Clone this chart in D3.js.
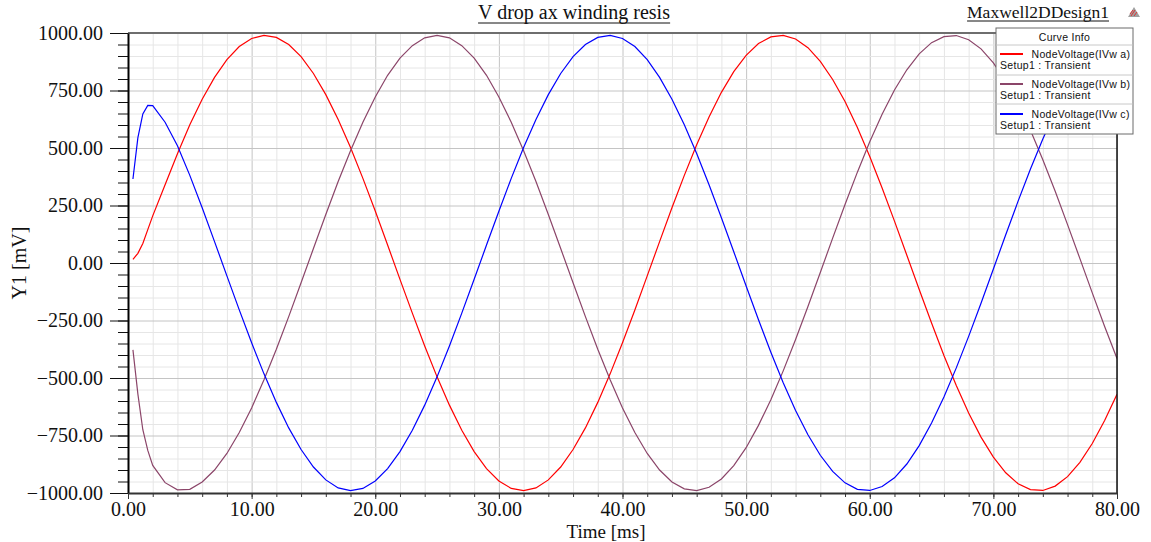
<!DOCTYPE html>
<html>
<head>
<meta charset="utf-8">
<script src="https://cdnjs.cloudflare.com/ajax/libs/d3/7.8.5/d3.min.js"></script>
<style>
  body { margin: 0; background: #fff; }
  svg { display: block; }
  .axis text { font-family: "Liberation Serif", "Times New Roman", serif; font-size: 20px; fill: #111; }
  .legend text { font-family: "Liberation Sans", Arial, sans-serif; font-size: 10.5px; fill: #111; letter-spacing: 0.3px; }
</style>
</head>
<body>
<div id="chart"></div>
<script>
// values (time in ms, voltage in mV)
var timeMs = [0.4, 0.8, 1.2, 1.6, 2,
    3, 4, 5, 6, 7, 8, 9, 10, 11, 12,
    13, 14, 15, 16, 17, 18, 19, 20, 21, 22,
    23, 24, 25, 26, 27, 28, 29, 30, 31, 32,
    33, 34, 35, 36, 37, 38, 39, 40, 41, 42,
    43, 44, 45, 46, 47, 48, 49, 50, 51, 52,
    53, 54, 55, 56, 57, 58, 59, 60, 61, 62,
    63, 64, 65, 66, 67, 68, 69, 70, 71, 72,
    73, 74, 75, 76, 77, 78, 79, 80];

var vwa = [16, 42, 85, 145, 205,
    340, 475, 601, 712, 807, 884, 941, 976, 990, 981,
    950, 897, 824, 732, 624, 502, 368, 226, 78, -71,
    -218, -361, -495, -618, -727, -820, -894, -948, -980, -990,
    -978, -943, -887, -811, -717, -606, -482, -347, -204, -56,
    93, 240, 381, 514, 635, 742, 832, 903, 954, 983,
    990, 974, 936, 877, 798, 702, 589, 463, 326, 182,
    34, -115, -261, -402, -533, -652, -757, -844, -912, -960,
    -985, -989, -970, -929, -867, -785, -685, -571];

var vwb = [-378, -570, -725, -815, -880,
    -955, -986, -984, -952, -900, -828, -737, -630, -508, -375,
    -233, -86, 63, 211, 354, 488, 612, 722, 816, 891,
    945, 979, 990, 979, 945, 891, 816, 722, 612, 488,
    354, 211, 63, -86, -233, -375, -508, -630, -737, -828,
    -900, -952, -982, -990, -975, -939, -881, -803, -706, -595,
    -469, -333, -189, -41, 108, 254, 395, 527, 647, 752,
    840, 909, 958, 984, 989, 971, 931, 870, 790, 691,
    577, 449, 312, 167, 19, -130, -276, -415];

var vwc = [365, 545, 648, 685, 684,
    612, 510, 381, 240, 93, -56, -204, -347, -482, -606,
    -717, -811, -887, -943, -978, -990, -980, -948, -894, -820,
    -727, -618, -495, -361, -218, -71, 78, 225, 368, 502,
    624, 732, 824, 897, 950, 981, 990, 976, 941, 884,
    807, 712, 601, 476, 340, 197, 49, -100, -247, -388,
    -521, -641, -747, -836, -906, -956, -984, -989, -972, -934,
    -874, -794, -696, -583, -456, -319, -175, -26, 123, 269,
    409, 539, 658, 761, 848, 915, 961, 986];

var seriesNames = ["NodeVoltage(IVw a)", "NodeVoltage(IVw b)", "NodeVoltage(IVw c)"];
var seriesSetup = "Setup1 : Transient";
var seriesColors = ["#ff0000", "#8b4569", "#0000ff"];

var xMajorTicks = [0, 10, 20, 30, 40, 50, 60, 70, 80];
var yMajorTicks = [-1000, -750, -500, -250, 0, 250, 500, 750, 1000];

// set the dimensions and margins of the graph
var W = 1151, H = 542;
var margin = { top: 33, right: 34, bottom: 49, left: 128 },
    width = W - margin.left - margin.right,
    height = H - margin.top - margin.bottom;

var svg = d3.select("#chart")
    .append("svg")
    .attr("width", W)
    .attr("height", H)
    .style("background", "#fff");

var g = svg.append("g")
    .attr("transform", "translate(" + margin.left + "," + margin.top + ")");

var x = d3.scaleLinear().domain([0, 80]).range([0, width]);
var y = d3.scaleLinear().domain([-1000, 1000]).range([height, 0]);

var xMinor = d3.range(0, 81, 2);
var yMinor = d3.range(-1000, 1001, 50);

// grid, minor then major
var gx = g.append("g")
    .attr("transform", "translate(0," + height + ")")
    .call(d3.axisBottom(x).tickValues(xMinor).tickSize(-height).tickFormat(""));
gx.select(".domain").remove();
gx.selectAll("line").attr("stroke", function (d) { return d % 10 === 0 ? "#c4c4c4" : "#e6e6e6"; });

var gy = g.append("g")
    .call(d3.axisLeft(y).tickValues(yMinor).tickSize(-width).tickFormat(""));
gy.select(".domain").remove();
gy.selectAll("line").attr("stroke", function (d) { return d % 250 === 0 ? "#c4c4c4" : "#e6e6e6"; });
gy.selectAll(".tick").sort(function (a, b) { return (a % 250 === 0) - (b % 250 === 0); }).order();

// curves
g.append("clipPath").attr("id", "plotClip")
    .append("rect").attr("width", width).attr("height", height);

var seriesValues = [vwa, vwb, vwc];
var line = d3.line()
    .x(function (d) { return x(d[0]); })
    .y(function (d) { return y(d[1]); });

seriesValues.forEach(function (vals, i) {
    g.append("path")
        .datum(timeMs.map(function (t, k) { return [t, vals[k]]; }))
        .attr("clip-path", "url(#plotClip)")
        .attr("fill", "none")
        .attr("stroke", seriesColors[i])
        .attr("stroke-width", 1.2)
        .attr("d", line);
});

// frame: top and right borders
g.append("line").attr("x1", 0).attr("x2", width).attr("y1", 0).attr("y2", 0)
    .attr("stroke", "#6e6e6e").attr("stroke-width", 2);
g.append("line").attr("x1", width).attr("x2", width).attr("y1", 0).attr("y2", height)
    .attr("stroke", "#111").attr("stroke-width", 1.5);

// y axis
var yMinorAxis = g.append("g")
    .call(d3.axisLeft(y).tickValues(yMinor).tickSize(10).tickFormat(""));
yMinorAxis.select(".domain").remove();
yMinorAxis.selectAll("line").attr("stroke", "#111");

var yAxis = g.append("g")
    .attr("class", "axis")
    .call(d3.axisLeft(y).tickValues(yMajorTicks).tickSize(18).tickSizeOuter(0).tickPadding(7)
        .tickFormat(d3.format(".2f")));
yAxis.select(".domain").attr("stroke", "#000").attr("stroke-width", 2);
yAxis.selectAll("line").attr("stroke", "#111");

// x axis
var xMinorAxis = g.append("g")
    .attr("transform", "translate(0," + height + ")")
    .call(d3.axisBottom(x).tickValues(xMinor).tickSize(4).tickFormat(""));
xMinorAxis.select(".domain").remove();
xMinorAxis.selectAll("line").attr("stroke", "#333");

var xAxis = g.append("g")
    .attr("class", "axis")
    .attr("transform", "translate(0," + height + ")")
    .call(d3.axisBottom(x).tickValues(xMajorTicks).tickSize(6).tickSizeOuter(0).tickPadding(3)
        .tickFormat(d3.format(".2f")));
xAxis.select(".domain").attr("stroke", "#333").attr("stroke-width", 2);
xAxis.selectAll("line").attr("stroke", "#333");

// axis titles
svg.append("text")
    .attr("transform", "translate(26," + (margin.top + height / 2) + ") rotate(-90)")
    .attr("text-anchor", "middle")
    .style("font-family", '"Liberation Serif", "Times New Roman", serif')
    .style("font-size", "20px")
    .attr("fill", "#111")
    .text("Y1 [mV]");

svg.append("text")
    .attr("x", 606)
    .attr("y", 537.5)
    .attr("text-anchor", "middle")
    .style("font-family", '"Liberation Serif", "Times New Roman", serif')
    .style("font-size", "19px")
    .attr("fill", "#111")
    .text("Time [ms]");

// underlined title and design name
function underlined(txt, xPos, yPos, size, anchor, gap) {
    var t = svg.append("text")
        .attr("x", xPos).attr("y", yPos)
        .attr("text-anchor", anchor)
        .style("font-family", '"Liberation Serif", "Times New Roman", serif')
        .style("font-size", size + "px")
        .attr("fill", "#111")
        .text(txt);
    var bb = t.node().getBBox();
    svg.append("line")
        .attr("x1", bb.x).attr("x2", bb.x + bb.width)
        .attr("y1", yPos + gap).attr("y2", yPos + gap)
        .attr("stroke", "#111").attr("stroke-width", 1);
}
underlined("V drop ax winding resis", 574, 19, 20, "middle", 4);
underlined("Maxwell2DDesign1", 1109, 17.5, 17.5, "end", 3.5);

// little warning triangle in the corner
svg.append("path")
    .attr("d", "M1128,17 L1134,7 L1140,17 Z")
    .attr("fill", "#a0a0a0");
svg.append("path")
    .attr("d", "M1131,16 L1135,10 M1134,16 L1137,12 M1130,14 L1133,10")
    .attr("stroke", "#e03030").attr("stroke-width", 1);

// legend box
var legend = svg.append("g")
    .attr("class", "legend")
    .attr("transform", "translate(996,28)");
legend.append("rect")
    .attr("width", 137).attr("height", 106)
    .attr("fill", "#fff").attr("stroke", "#6a6a6a").attr("stroke-width", 1);
legend.append("text")
    .attr("x", 68.5).attr("y", 12.7)
    .attr("text-anchor", "middle")
    .text("Curve Info");
[17, 47, 76].forEach(function (yy) {
    legend.append("line")
        .attr("x1", 0.5).attr("x2", 136.5).attr("y1", yy).attr("y2", yy)
        .attr("stroke", "#c8c8c8").attr("stroke-width", 1);
});
seriesNames.forEach(function (name, i) {
    var row = legend.append("g").attr("transform", "translate(0," + (30 * i) + ")");
    row.append("line")
        .attr("x1", 4).attr("x2", 27).attr("y1", 26).attr("y2", 26)
        .attr("stroke", seriesColors[i]).attr("stroke-width", 2);
    row.append("text").attr("x", 35.5).attr("y", 29.5).text(name);
    row.append("text").attr("x", 4).attr("y", 41).text(seriesSetup);
});
</script>
</body>
</html>
